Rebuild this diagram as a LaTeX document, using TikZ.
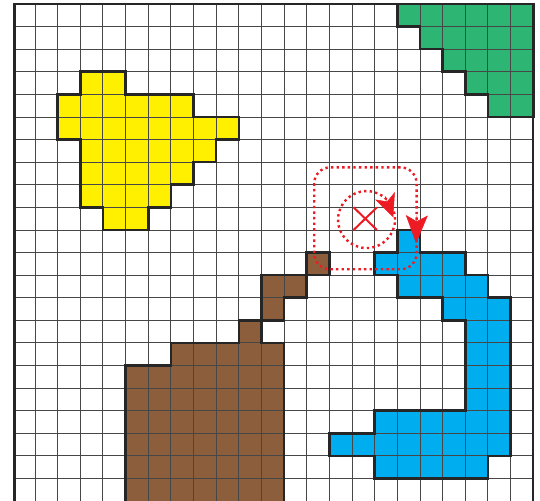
\documentclass[tikz,border=0pt]{standalone}
\usetikzlibrary{arrows.meta}
\definecolor{gyellow}{RGB}{255,240,0}
\definecolor{ggreen}{RGB}{45,182,115}
\definecolor{gbrown}{RGB}{140,94,60}
\definecolor{gblue}{RGB}{0,174,239}
\definecolor{gred}{RGB}{237,28,36}
\def\pathYellow{(3,-3) -- (5,-3) -- (5,-4) -- (8,-4) -- (8,-5) -- (10,-5) -- (10,-6) -- (9,-6) -- (9,-7) -- (8,-7) -- (8,-8) -- (7,-8) -- (7,-9) -- (6,-9) -- (6,-10) -- (4,-10) -- (4,-9) -- (3,-9) -- (3,-6) -- (2,-6) -- (2,-4) -- (3,-4) -- cycle}
\def\pathGreen{(17,0) -- (23,0) -- (23,-5) -- (21,-5) -- (21,-4) -- (20,-4) -- (20,-3) -- (19,-3) -- (19,-2) -- (18,-2) -- (18,-1) -- (17,-1) -- cycle}
\def\pathBrownA{(13,-11) -- (14,-11) -- (14,-12) -- (13,-12) -- cycle}
\def\pathBrownB{(11,-12) -- (13,-12) -- (13,-13) -- (12,-13) -- (12,-14) -- (11,-14) -- cycle}
\def\pathBrownC{(10,-14) -- (11,-14) -- (11,-15) -- (12,-15) -- (12,-22.5) -- (5,-22.5) -- (5,-16) -- (7,-16) -- (7,-15) -- (10,-15) -- cycle}
\def\pathBlue{(17,-10) -- (18,-10) -- (18,-11) -- (20,-11) -- (20,-12) -- (21,-12) -- (21,-13) -- (22,-13) -- (22,-20) -- (21,-20) -- (21,-21) -- (16,-21) -- (16,-20) -- (14,-20) -- (14,-19) -- (16,-19) -- (16,-18) -- (20,-18) -- (20,-14) -- (19,-14) -- (19,-13) -- (17,-13) -- (17,-12) -- (16,-12) -- (16,-11) -- (17,-11) -- cycle}
\begin{document}
\begin{tikzpicture}[x=22.65pt,y=22.6pt,
  region/.style={draw=black!85,line width=2.6pt,line join=miter},
  gridline/.style={black!72,line width=0.9pt},
  frameline/.style={black!85,line width=2.4pt},
  reddots/.style={gred,line width=2.4pt,dash pattern=on 2.4pt off 3.2pt},
  redtipA/.style={gred,line width=0.5pt,-{Stealth[length=23pt,width=21pt,inset=6pt]}},
  redtipB/.style={gred,line width=0.5pt,-{Stealth[length=28pt,width=22pt,inset=6pt]}},
  crossline/.style={gred,line width=2pt},
]
\useasboundingbox (-0.545,-21.99) rectangle (23.30,0.177);
\clip (-0.545,-21.99) rectangle (23.30,0.177);
\fill[white] (-0.545,-21.99) rectangle (23.30,0.177);
% fills
\fill[gyellow] \pathYellow;
\fill[ggreen] \pathGreen;
\fill[gbrown] \pathBrownA;
\fill[gbrown] \pathBrownB;
\fill[gbrown] \pathBrownC;
\fill[gblue] \pathBlue;
% grid
\foreach \i in {1,...,22} \draw[gridline] (\i,0) -- (\i,-22.5);
\foreach \j in {1,...,21} \draw[gridline] (0.1,-\j) -- (23,-\j);
% outlines
\draw[region] \pathYellow;
\draw[region] \pathGreen;
\draw[region] \pathBrownA;
\draw[region] \pathBrownB;
\draw[region] \pathBrownC;
\draw[region] \pathBlue;
% frame
\draw[frameline] (0.1,-22.5) -- (0.1,0) -- (23,0) -- (23,-22.5);
% red marks
\coordinate (cc) at (15.64,-9.54);
\draw[crossline] (15.07,-9.0) -- (16.1,-10.0);
\draw[crossline] (15.07,-10.0) -- (16.1,-9.0);
\draw[reddots] (cc) circle[radius=28.5pt];
\draw[reddots,rounded corners=16pt] (13.33,-7.23) rectangle (17.85,-11.74);
\coordinate (t1b) at (16.46,-8.5);
\coordinate (t1) at (16.82,-9.44);
\draw[redtipA] (t1b) -- (t1);
\coordinate (t2b) at (17.86,-9.35);
\coordinate (t2) at (17.83,-10.59);
\draw[redtipB] (t2b) -- (t2);
\end{tikzpicture}
\end{document}
